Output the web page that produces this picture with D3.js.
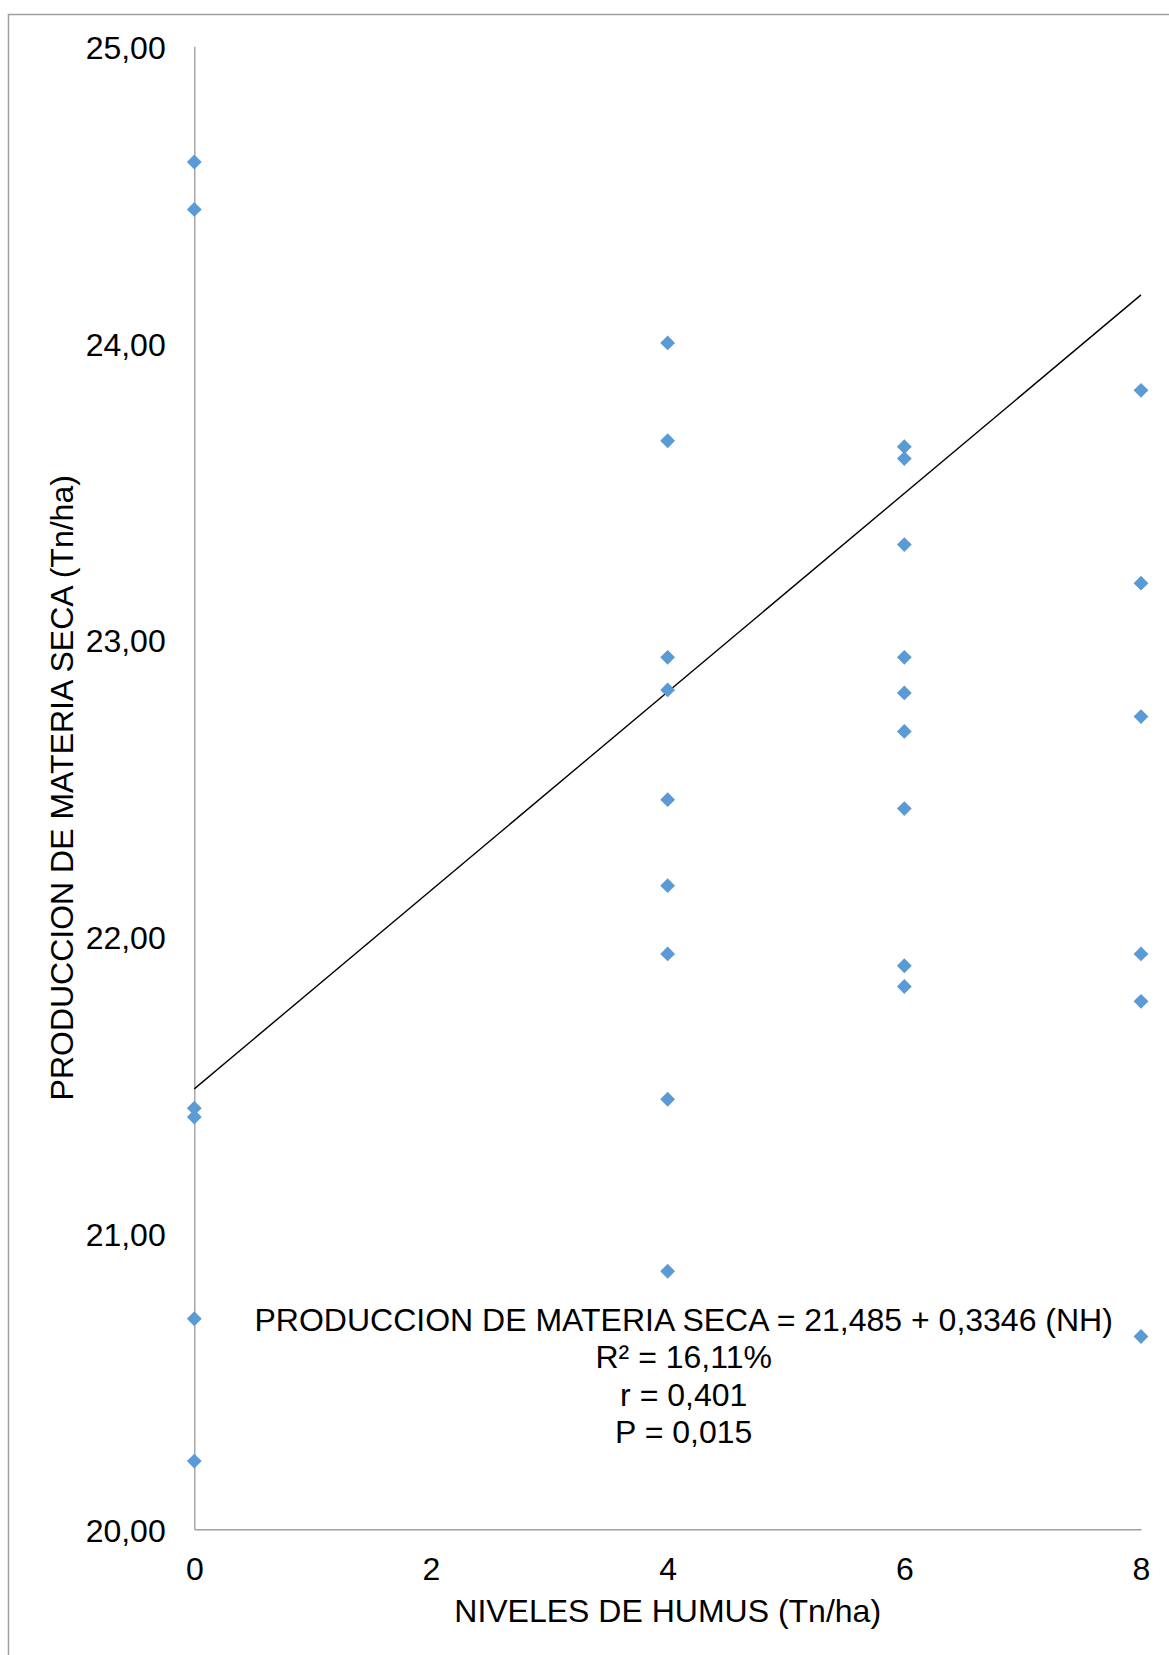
<!DOCTYPE html>
<html>
<head>
<meta charset="utf-8">
<script src="https://cdn.jsdelivr.net/npm/d3@7"></script>
<style>
  body { margin: 0; background: #fff; }
  text { font-family: Arial, "Liberation Sans", sans-serif; fill: #000; }
</style>
</head>
<body>
<div id="chart"></div>
<script>
// Niveles de humus (x) y produccion de materia seca (y)
const nivelesHumus = [
  0, 0, 0, 0, 0, 0,
  4, 4, 4, 4, 4, 4, 4, 4, 4,
  6, 6, 6, 6, 6, 6, 6, 6, 6,
  8, 8, 8, 8, 8, 8
];
const materiaSeca = [
  24.61, 24.45, 21.42, 21.39, 20.71, 20.23,
  24.00, 23.67, 22.94, 22.83, 22.46, 22.17, 21.94, 21.45, 20.87,
  23.65, 23.61, 23.32, 22.94, 22.82, 22.69, 22.43, 21.90, 21.83,
  23.84, 23.19, 22.74, 21.94, 21.78, 20.65
];
const xTicks = [0, 2, 4, 6, 8];
const yTicks = [20, 21, 22, 23, 24, 25];

// recta de regresion
const intercepto = 21.485;
const pendiente = 0.3346;
const rectaX = [0, 8];

const anotaciones = [
  "PRODUCCION DE MATERIA SECA = 21,485 + 0,3346 (NH)",
  "R² = 16,11%",
  "r = 0,401",
  "P = 0,015"
];

const W = 1169, H = 1655;
const fontSize = 32;

const svg = d3.select("#chart")
  .append("svg")
  .attr("width", W)
  .attr("height", H);

svg.append("rect")
  .attr("width", W).attr("height", H)
  .attr("fill", "#fff");

// marco del grafico (se sale por derecha y abajo)
svg.append("rect")
  .attr("x", 8.5).attr("y", 14.5)
  .attr("width", W + 20).attr("height", H + 20)
  .attr("fill", "none")
  .attr("stroke", "#a0a0a0")
  .attr("stroke-width", 1.5);

const x = d3.scaleLinear().domain([0, 8]).range([194.3, 1141]);
const y = d3.scaleLinear().domain([20, 25]).range([1529.3, 46.3]);

const locale = d3.formatLocale({ decimal: ",", thousands: ".", grouping: [3], currency: ["", ""] });

// ejes
const gy = svg.append("g")
  .attr("transform", `translate(${x(0)},0)`)
  .call(d3.axisLeft(y).tickValues(yTicks).tickSize(0).tickSizeOuter(0)
    .tickPadding(28.6).tickFormat(locale.format(".2f")));

const gx = svg.append("g")
  .attr("transform", `translate(0,${y(20)})`)
  .call(d3.axisBottom(x).tickValues(xTicks).tickSize(0).tickSizeOuter(0)
    .tickPadding(27.5).tickFormat(d3.format("d")));

[gx, gy].forEach(g => {
  g.select(".domain").attr("stroke", "#a0a0a0").attr("stroke-width", 1.4);
  g.selectAll("text")
    .style("font-size", fontSize + "px")
    .attr("fill", "#000");
});
gy.selectAll("text").attr("dy", "0.39em");

// titulos de ejes
svg.append("text")
  .attr("x", (x(0) + x(8)) / 2)
  .attr("y", 1621.7)
  .attr("text-anchor", "middle")
  .style("font-size", fontSize + "px")
  .text("NIVELES DE HUMUS (Tn/ha)");

svg.append("text")
  .attr("transform", `translate(72.5,${(y(20) + y(25)) / 2}) rotate(-90)`)
  .attr("text-anchor", "middle")
  .style("font-size", fontSize + "px")
  .text("PRODUCCION DE MATERIA SECA (Tn/ha)");

// recta de regresion
const line = d3.line()
  .x(d => x(d))
  .y(d => y(intercepto + pendiente * d));

svg.append("path")
  .datum(rectaX)
  .attr("d", line)
  .attr("fill", "none")
  .attr("stroke", "#000")
  .attr("stroke-width", 1.4);

// puntos (rombos)
const diamond = d3.symbol().type(d3.symbolSquare).size(110);
svg.selectAll(".punto")
  .data(nivelesHumus.map((d, i) => ({ nh: d, ms: materiaSeca[i] })))
  .enter().append("path")
  .attr("class", "punto")
  .attr("d", diamond)
  .attr("transform", d => `translate(${x(d.nh)},${y(d.ms)}) rotate(45)`)
  .attr("fill", "#5b9bd5");

// ecuacion y estadisticos
svg.selectAll(".anotacion")
  .data(anotaciones)
  .enter().append("text")
  .attr("class", "anotacion")
  .attr("x", 683.7)
  .attr("y", (d, i) => 1331 + i * 37.3)
  .attr("text-anchor", "middle")
  .style("font-size", fontSize + "px")
  .text(d => d);
</script>
</body>
</html>
